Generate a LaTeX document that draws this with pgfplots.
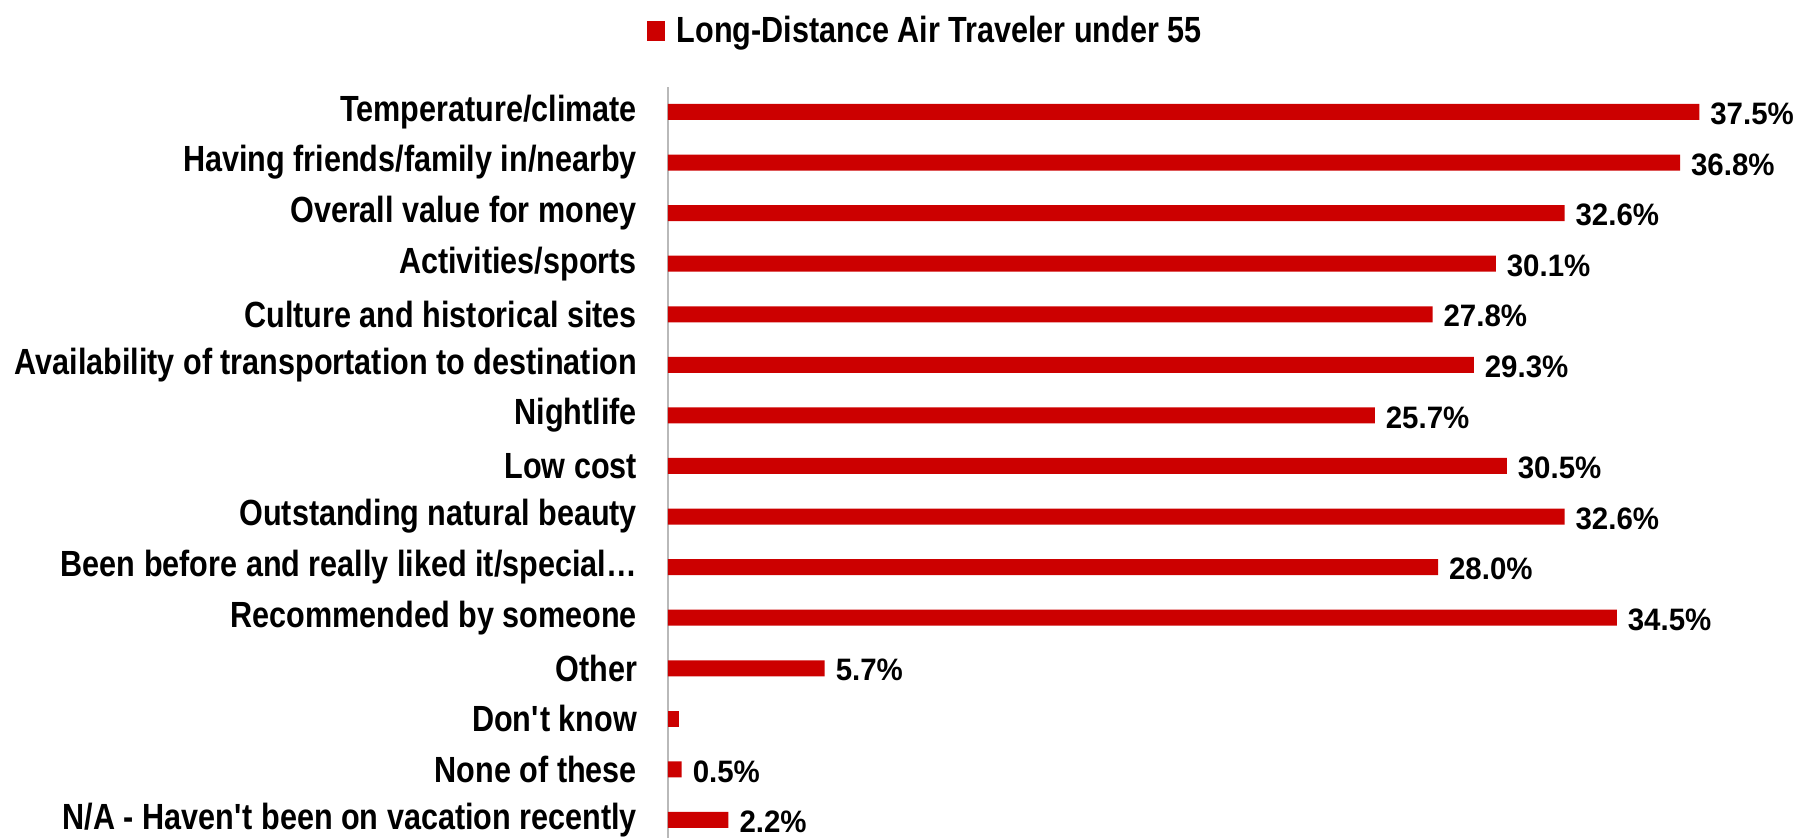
\documentclass[border=0pt]{standalone}
\usepackage{fontspec}
\usepackage{pgfplots}
\pgfplotsset{compat=1.18}
\setmainfont{Liberation Sans}
\newfontfamily\lab[FakeStretch=0.84]{Liberation Sans Bold}
\newfontfamily\val[FakeStretch=0.95]{Liberation Sans Bold}
\definecolor{barred}{HTML}{CC0000}

\begin{document}
\begin{tikzpicture}
\begin{axis}[
    xbar, bar width=8pt, bar shift=0pt,
    scale only axis, width=563.75pt, height=375.5pt,
    xmin=0, xmax=41, ymin=-0.356, ymax=14.494,
    axis x line=none, axis y line*=left,
    y axis line style={-, draw=gray!55, line width=0.8pt},
    major tick length=0pt, xtick=\empty,
    ytick={14,13,12,11,10,9,8,7,6,5,4,3,2,1,0},
    yticklabels={Temperature/climate, Having friends/family in/nearby,
        Overall value for money, Activities/sports, Culture and historical sites,
        Availability of transportation to destination, Nightlife, Low cost,
        Outstanding natural beauty, Been before and really liked it/special…,
        Recommended by someone, Other, Don\textquotesingle t know, None of these,
        N/A - Haven\textquotesingle t been on vacation recently},
    yticklabel style={font=\lab\fontsize{18.2pt}{20pt}\selectfont, xshift=-12pt},
    /pgf/number format/assume math mode=true,
    nodes near coords={\pgfmathprintnumber[fixed,fixed zerofill,precision=1]{\pgfplotspointmeta}\%},
    nodes near coords style={font=\val\fontsize{15.5pt}{17pt}\selectfont, black, xshift=2pt, yshift=-1pt},
    point meta=x,
    legend style={at={(rel axis cs:0.229,1.075)}, anchor=center, draw=none,
        font=\lab\fontsize{18.2pt}{20pt}\selectfont, inner sep=0pt,
        /tikz/every odd column/.append style={column sep=4pt}},
    legend image code/.code={\fill[barred] (0pt,-5pt) rectangle (9pt,5pt);},
]
\addplot[fill=barred, draw=none] coordinates {
    (37.5,14) (36.8,13) (32.6,12) (30.1,11) (27.8,10) (29.3,9) (25.7,8)
    (30.5,7) (32.6,6) (28.0,5) (34.5,4) (5.7,3) (0.5,1) (2.2,0)
};
\addlegendentry{Long-Distance Air Traveler under 55}
% Don't know: bar without a value label
\addplot[fill=barred, draw=none, forget plot, nodes near coords={}] coordinates {
    (0.4,2)
};
\end{axis}
\pgfresetboundingbox
\path (current axis.south west) ++(-334pt,0pt) rectangle ++(902pt,419pt);
\end{tikzpicture}
\end{document}
